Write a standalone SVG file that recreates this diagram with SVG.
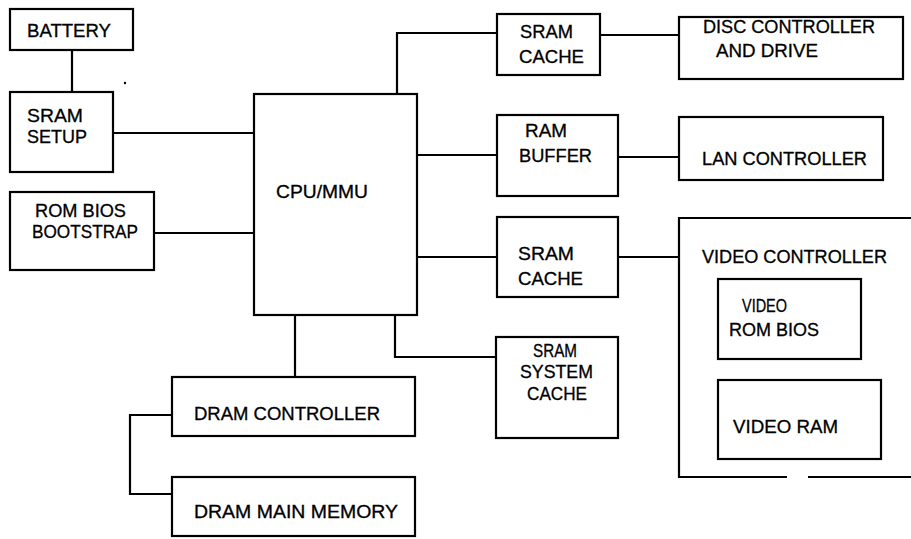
<svg xmlns="http://www.w3.org/2000/svg" width="911" height="539" viewBox="0 0 911 539">
<style>
.box{fill:#fff;stroke:#000;stroke-width:2.2}
.ln{fill:none;stroke:#000;stroke-width:2.2}
text{font-family:"Liberation Sans",Arial,sans-serif;font-size:18px;fill:#000;stroke:#000;stroke-width:0.3}
</style>
<rect width="911" height="539" fill="#fff"/>
<g id="connectors">
<path class="ln" d="M72 50V92"/>
<path class="ln" d="M113 133H254"/>
<path class="ln" d="M154 233H254"/>
<path class="ln" d="M397 94V33H497"/>
<path class="ln" d="M600 35H679"/>
<path class="ln" d="M417 155H497"/>
<path class="ln" d="M618 157H679"/>
<path class="ln" d="M417 257H497"/>
<path class="ln" d="M618 257H679"/>
<path class="ln" d="M295 315V377"/>
<path class="ln" d="M395 315V357H496"/>
<path class="ln" d="M172 415H130V494H172"/>
</g>
<g id="battery"><rect class="box" x="10" y="9" width="123" height="41"/><text x="27" y="37" textLength="84" lengthAdjust="spacingAndGlyphs">BATTERY</text></g>
<g id="sram-setup"><rect class="box" x="10" y="92" width="103" height="80"/><text x="27" y="122" textLength="56" lengthAdjust="spacingAndGlyphs">SRAM</text><text x="27" y="143" textLength="60" lengthAdjust="spacingAndGlyphs">SETUP</text></g>
<g id="rom-bios"><rect class="box" x="10" y="192" width="144" height="78"/><text x="35" y="217" textLength="91" lengthAdjust="spacingAndGlyphs">ROM BIOS</text><text x="32" y="238" textLength="106" lengthAdjust="spacingAndGlyphs">BOOTSTRAP</text></g>
<g id="cpu"><rect class="box" x="254" y="94" width="163" height="221"/><text x="276" y="198" textLength="92" lengthAdjust="spacingAndGlyphs">CPU/MMU</text></g>
<g id="sram-cache-1"><rect class="box" x="497" y="14" width="103" height="61"/><text x="520" y="38" textLength="53" lengthAdjust="spacingAndGlyphs">SRAM</text><text x="519" y="63" textLength="65" lengthAdjust="spacingAndGlyphs">CACHE</text></g>
<g id="disc"><rect class="box" x="679" y="17" width="224" height="62"/><text x="703" y="33" textLength="172" lengthAdjust="spacingAndGlyphs">DISC CONTROLLER</text><text x="716" y="57" textLength="102" lengthAdjust="spacingAndGlyphs">AND DRIVE</text></g>
<g id="ram-buffer"><rect class="box" x="497" y="115" width="121" height="81"/><text x="525" y="137" textLength="42" lengthAdjust="spacingAndGlyphs">RAM</text><text x="519" y="162" textLength="73" lengthAdjust="spacingAndGlyphs">BUFFER</text></g>
<g id="lan"><rect class="box" x="679" y="117" width="204" height="63"/><text x="702" y="165" textLength="165" lengthAdjust="spacingAndGlyphs">LAN CONTROLLER</text></g>
<g id="sram-cache-2"><rect class="box" x="497" y="217" width="121" height="80"/><text x="518" y="260" textLength="56" lengthAdjust="spacingAndGlyphs">SRAM</text><text x="518" y="285" textLength="65" lengthAdjust="spacingAndGlyphs">CACHE</text></g>
<g id="sram-system-cache"><rect class="box" x="496" y="337" width="122" height="101"/><text x="533" y="357" textLength="44" lengthAdjust="spacingAndGlyphs">SRAM</text><text x="520" y="378" textLength="73" lengthAdjust="spacingAndGlyphs">SYSTEM</text><text x="527" y="400" textLength="60" lengthAdjust="spacingAndGlyphs">CACHE</text></g>
<g id="video-controller"><path class="ln" d="M911 218H679V477H787M808 477H911"/><text x="702" y="263" textLength="185" lengthAdjust="spacingAndGlyphs">VIDEO CONTROLLER</text></g>
<g id="video-rom-bios"><rect class="box" x="718" y="279" width="143" height="80"/><text x="742" y="312" textLength="45" lengthAdjust="spacingAndGlyphs">VIDEO</text><text x="729" y="336" textLength="90" lengthAdjust="spacingAndGlyphs">ROM BIOS</text></g>
<g id="video-ram"><rect class="box" x="718" y="380" width="163" height="79"/><text x="733" y="433" textLength="105" lengthAdjust="spacingAndGlyphs">VIDEO RAM</text></g>
<g id="dram-controller"><rect class="box" x="172" y="377" width="243" height="59"/><text x="194" y="420" textLength="186" lengthAdjust="spacingAndGlyphs">DRAM CONTROLLER</text></g>
<g id="dram-main"><rect class="box" x="172" y="477" width="243" height="59"/><text x="194" y="518" textLength="204" lengthAdjust="spacingAndGlyphs">DRAM MAIN MEMORY</text></g>
<circle cx="125" cy="83" r="1.2" fill="#000"/>
</svg>
